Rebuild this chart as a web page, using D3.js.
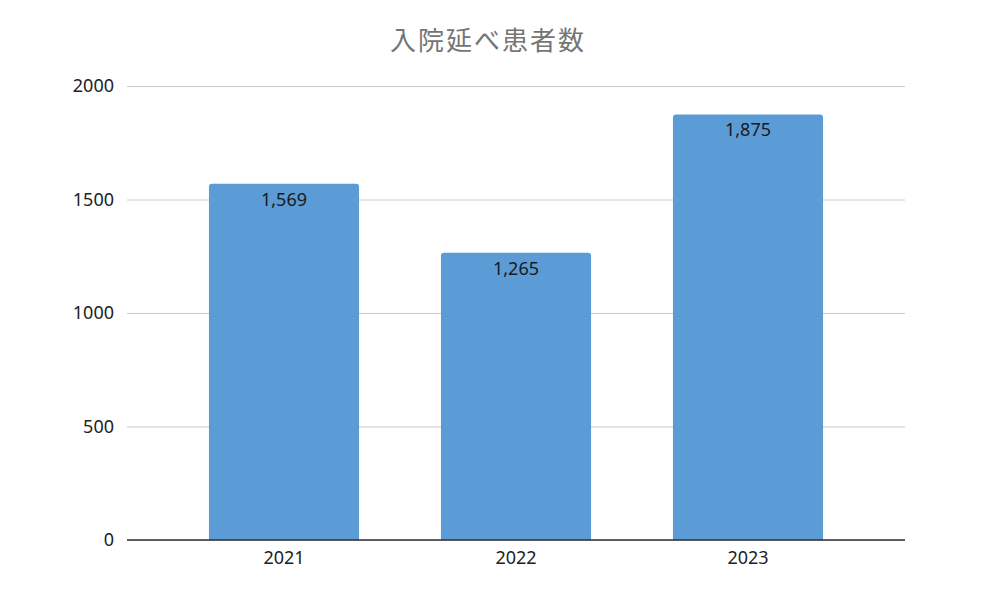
<!DOCTYPE html>
<html>
<head>
<meta charset="utf-8">
<script src="https://cdn.jsdelivr.net/npm/d3@7"></script>
<style>
  body { margin: 0; background: #fff; }
  svg { font-family: "Noto Sans CJK JP", "Noto Sans", sans-serif; }
</style>
</head>
<body>
<svg id="chart" width="1000" height="596"></svg>
<script>
// data
var years = ['2021', '2022', '2023'];
var patients = [1569, 1265, 1875];
var yTicks = [0, 500, 1000, 1500, 2000];
var title = '入院延べ患者数';

var svg = d3.select('#chart');

// plot edges (note: "top" is reserved on window, so use other names)
var plotLeft = 127, plotRight = 905, plotTop = 86, plotBottom = 540;

var x = d3.scaleBand()
    .domain(years)
    .range([168, 864])
    .paddingInner(0.353)
    .paddingOuter(0.1765);

var y = d3.scaleLinear()
    .domain([0, 2000])
    .range([plotBottom, plotTop]);

// title
svg.append('text')
    .attr('x', 488)
    .attr('y', 50)
    .attr('text-anchor', 'middle')
    .attr('fill', '#757575')
    .style('font-size', '26px')
    .style('letter-spacing', '2px')
    .text(title);

// gridlines + y labels
var yAxis = d3.axisLeft(y)
    .tickValues(yTicks)
    .tickSize(-(plotRight - plotLeft))
    .tickPadding(13)
    .tickFormat(d3.format('d'));

var gy = svg.append('g')
    .attr('transform', 'translate(' + plotLeft + ',0)')
    .call(yAxis);
gy.select('.domain').remove();
gy.selectAll('.tick line').attr('stroke', '#cccccc').attr('stroke-width', 1);
gy.selectAll('.tick text')
    .attr('fill', '#222')
    .style('font-size', '18px')
    .style('font-family', '"Noto Sans", sans-serif');

// bars with rounded top corners
function barPath(x0, y0, w, h, r) {
    return 'M' + x0 + ',' + (y0 + h) +
        'V' + (y0 + r) +
        'Q' + x0 + ',' + y0 + ' ' + (x0 + r) + ',' + y0 +
        'H' + (x0 + w - r) +
        'Q' + (x0 + w) + ',' + y0 + ' ' + (x0 + w) + ',' + (y0 + r) +
        'V' + (y0 + h) + 'Z';
}

svg.selectAll('.bar')
    .data(years)
    .enter().append('path')
    .attr('class', 'bar')
    .attr('fill', '#5b9bd6')
    .attr('d', function(d, i) {
        var yv = y(patients[i]);
        return barPath(x(d), yv, x.bandwidth(), plotBottom - yv, 3);
    });

// value labels
svg.selectAll('.val')
    .data(years)
    .enter().append('text')
    .attr('class', 'val')
    .attr('x', function(d) { return x(d) + x.bandwidth() / 2; })
    .attr('y', function(d, i) { return y(patients[i]) + 22; })
    .attr('text-anchor', 'middle')
    .attr('fill', '#1a1a1a')
    .style('font-size', '18px')
    .style('font-family', '"Noto Sans", sans-serif')
    .text(function(d, i) { return d3.format(',')(patients[i]); });

// x axis
var gx = svg.append('g')
    .attr('transform', 'translate(0,' + plotBottom + ')')
    .call(d3.axisBottom(x).tickSize(0).tickPadding(11));
gx.select('.domain').remove();
gx.selectAll('.tick text')
    .attr('fill', '#222')
    .style('font-size', '18px')
    .style('font-family', '"Noto Sans", sans-serif');

svg.append('line')
    .attr('x1', plotLeft).attr('x2', plotRight)
    .attr('y1', plotBottom).attr('y2', plotBottom)
    .attr('stroke', '#333')
    .attr('stroke-width', 1.5);
</script>
</body>
</html>
